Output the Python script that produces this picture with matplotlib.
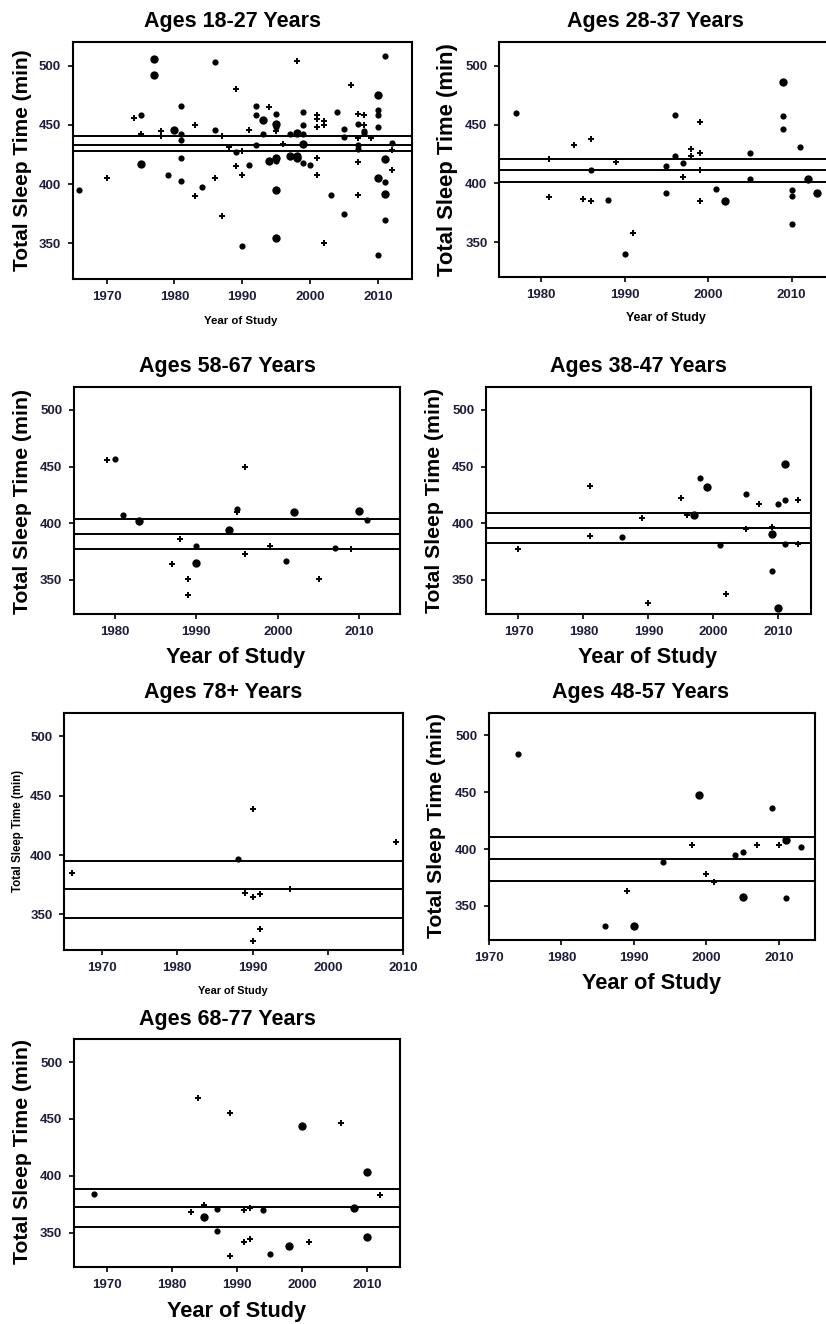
import matplotlib
matplotlib.use("Agg")
import matplotlib.pyplot as plt
import numpy as np

plt.rcParams['font.family'] = ['Liberation Sans', 'DejaVu Sans']

# ---------------- data ----------------
# marker kind: '+' = small cross, 'o' = dot, 'O' = large dot
titles = ["Ages 18-27 Years", "Ages 28-37 Years", "Ages 58-67 Years", "Ages 38-47 Years",
          "Ages 78+ Years", "Ages 48-57 Years", "Ages 68-77 Years"]

yr_18 = [1966, 1970, 1974, 1975, 1975, 1975, 1977, 1977, 1978, 1978, 1979, 1980, 1981, 1981, 1981, 1981, 1981,
         1983, 1983, 1984, 1986, 1986, 1986, 1987, 1987, 1988, 1989, 1989, 1989, 1990, 1990, 1990, 1991, 1991,
         1992, 1992, 1992, 1993, 1993, 1994, 1994, 1995, 1995, 1995, 1995, 1995, 1995, 1995, 1995, 1996, 1997,
         1997, 1998, 1998, 1998, 1998, 1999, 1999, 1999, 1999, 1999, 2000, 2001, 2001, 2001, 2001, 2001, 2002,
         2002, 2002, 2003, 2004, 2005, 2005, 2005, 2006, 2007, 2007, 2007, 2007, 2007, 2007, 2007, 2008, 2008,
         2008, 2008, 2009, 2010, 2010, 2010, 2010, 2010, 2010, 2011, 2011, 2011, 2011, 2011, 2012, 2012, 2012]
tst_18 = [395, 405, 456, 458, 442, 417, 506, 492, 445, 441, 408, 446, 466, 442, 437, 422, 403,
          450, 390, 398, 503, 446, 405, 441, 373, 431, 480, 427, 415, 428, 408, 348, 446, 416,
          466, 458, 433, 454, 442, 465, 420, 459, 451, 448, 445, 422, 420, 395, 355, 434, 442,
          424, 504, 443, 424, 422, 461, 450, 442, 434, 418, 416, 458, 455, 448, 422, 408, 453,
          450, 350, 391, 461, 447, 440, 375, 484, 459, 451, 439, 433, 430, 419, 391, 458, 450,
          445, 443, 439, 475, 463, 458, 448, 405, 340, 508, 421, 402, 392, 370, 435, 429, 412]
mk_18 = ['o', '+', '+', 'o', '+', 'O', 'O', 'O', '+', '+', 'o', 'O', 'o', 'o', 'o', 'o', 'o',
         '+', '+', 'o', 'o', 'o', '+', '+', '+', '+', '+', 'o', '+', '+', '+', 'o', '+', 'o',
         'o', 'o', 'o', 'O', 'o', '+', 'O', 'o', 'O', 'o', '+', 'O', 'o', 'O', 'O', '+', 'o',
         'O', '+', 'O', 'O', 'O', 'o', 'o', 'o', 'O', 'o', 'o', '+', '+', '+', '+', '+', '+',
         '+', '+', 'o', 'o', 'o', 'o', 'o', '+', '+', 'o', '+', 'o', 'o', '+', '+', '+', '+',
         'o', 'o', '+', 'O', 'o', 'o', 'o', 'O', 'o', 'o', 'O', 'o', 'O', 'o', 'o', '+', '+']
hl_18 = [441, 433, 428]

yr_28 = [1977, 1981, 1981, 1984, 1985, 1986, 1986, 1986, 1988, 1989, 1990, 1991, 1995, 1995, 1996, 1996,
         1997, 1997, 1998, 1998, 1999, 1999, 1999, 1999, 2001, 2002, 2005, 2005, 2009, 2009, 2009, 2010,
         2010, 2010, 2011, 2012, 2013]
tst_28 = [460, 421, 388, 433, 387, 438, 411, 385, 386, 418, 340, 358, 415, 392, 458, 423,
          417, 405, 429, 423, 452, 426, 411, 385, 395, 385, 426, 404, 486, 457, 446, 394,
          389, 365, 431, 404, 392]
mk_28 = ['o', '+', '+', '+', '+', '+', 'o', '+', 'o', '+', 'o', '+', 'o', 'o', 'o', 'o',
         'o', '+', '+', '+', '+', '+', '+', '+', 'o', 'O', 'o', 'o', 'O', 'o', 'o', 'o',
         'o', 'o', 'o', 'O', 'O']
hl_28 = [421, 411, 401]

yr_58 = [1979, 1980, 1981, 1983, 1987, 1988, 1989, 1989, 1990, 1990, 1994, 1995, 1995, 1996, 1996,
         1999, 2001, 2002, 2005, 2007, 2009, 2010, 2011]
tst_58 = [456, 457, 407, 402, 364, 386, 351, 337, 380, 365, 394, 413, 410, 450, 373,
          380, 367, 410, 351, 378, 377, 411, 403]
mk_58 = ['+', 'o', 'o', 'O', '+', '+', '+', '+', 'o', 'O', 'O', 'o', '+', '+', '+',
         '+', 'o', 'O', '+', 'o', '+', 'O', 'o']
hl_58 = [403.5, 390.5, 377.5]

yr_38 = [1970, 1981, 1981, 1986, 1989, 1990, 1995, 1996, 1997, 1998, 1999, 2001, 2002, 2005, 2005,
         2007, 2009, 2009, 2009, 2010, 2010, 2011, 2011, 2011, 2013, 2013]
tst_38 = [377, 433, 389, 388, 405, 330, 422, 407, 407, 440, 432, 381, 338, 426, 395,
          417, 397, 391, 358, 417, 325, 452, 421, 382, 421, 382]
mk_38 = ['+', '+', '+', 'o', '+', '+', '+', '+', 'O', 'o', 'O', 'o', '+', 'o', '+',
         '+', '+', 'O', 'o', 'o', 'O', 'O', 'o', 'o', '+', '+']
hl_38 = [409, 396, 383]

yr_78 = [1966, 1988, 1990, 1989, 1990, 1991, 1995, 1991, 1990, 2009]
tst_78 = [385, 397, 439, 368, 365, 367, 371, 338, 328, 411]
mk_78 = ['+', 'o', '+', '+', '+', '+', '+', '+', '+', '+']
hl_78 = [395, 371, 347]

yr_48 = [1974, 1986, 1989, 1990, 1994, 1998, 1999, 2000, 2001, 2004, 2005, 2005, 2007, 2009, 2010,
         2011, 2011, 2013]
tst_48 = [484, 332, 363, 332, 389, 404, 448, 378, 371, 395, 397, 358, 404, 436, 404,
          408, 357, 402]
mk_48 = ['o', 'o', '+', 'O', 'o', '+', 'O', '+', '+', 'o', 'o', 'O', '+', 'o', '+',
         'O', 'o', 'o']
hl_48 = [410.5, 391, 372]

yr_68 = [1968, 1983, 1984, 1985, 1985, 1987, 1987, 1989, 1989, 1991, 1991, 1992, 1992, 1994, 1995,
         1998, 2000, 2001, 2006, 2008, 2010, 2010, 2012]
tst_68 = [384, 368, 468, 374, 364, 371, 351, 455, 329, 370, 342, 372, 344, 370, 331,
          338, 444, 342, 446, 372, 403, 346, 383]
mk_68 = ['o', '+', '+', '+', 'O', 'o', 'o', '+', '+', '+', '+', '+', '+', 'o', 'o',
         'O', 'O', '+', '+', 'O', 'O', 'O', '+']
hl_68 = [388, 372.5, 355]

# ---------------- layout (pixel geometry) ----------------
W, H = 826, 1324
fig = plt.figure(figsize=(W / 100, H / 100), dpi=100)

def fx(x):
    return x / W

def fy(y):
    return 1 - y / H

panels = [
    dict(d=(yr_18, tst_18, mk_18, hl_18), box=(72.7, 412, 42, 279), xlim=(1965, 2015),
         xt=[1970, 1980, 1990, 2000, 2010], tt=(232, 27), yl=(23, 160, 15), xl=(241, 321, 8.2)),
    dict(d=(yr_28, tst_28, mk_28, hl_28), box=(499.3, 833.3, 42.3, 277.3), xlim=(1975, 2015),
         xt=[1980, 1990, 2000, 2010], tt=(655, 27), yl=(447, 160, 15.8), xl=(666, 318.5, 9)),
    dict(d=(yr_58, tst_58, mk_58, hl_58), box=(74, 400, 387.3, 614), xlim=(1975, 2015),
         xt=[1980, 1990, 2000, 2010], tt=(227, 372), yl=(23, 501, 15.3), xl=(236, 657, 15.7)),
    dict(d=(yr_38, tst_38, mk_38, hl_38), box=(486, 811, 387.3, 614), xlim=(1965, 2015),
         xt=[1970, 1980, 1990, 2000, 2010], tt=(638, 372), yl=(434, 500, 15.3), xl=(648, 658, 15.7)),
    dict(d=(yr_78, tst_78, mk_78, hl_78), box=(64.3, 403.3, 712.7, 950), xlim=(1965, 2010),
         xt=[1970, 1980, 1990, 2000, 2010], tt=(223, 698), yl=(18, 831, 8.3), xl=(233, 991, 7.8)),
    dict(d=(yr_48, tst_48, mk_48, hl_48), box=(489, 815, 712.7, 940), xlim=(1970, 2015),
         xt=[1970, 1980, 1990, 2000, 2010], tt=(641, 698), yl=(437, 825, 15.3), xl=(652, 984, 15.7)),
    dict(d=(yr_68, tst_68, mk_68, hl_68), box=(74, 400, 1039.3, 1266.7), xlim=(1965, 2015),
         xt=[1970, 1980, 1990, 2000, 2010], tt=(227, 1025), yl=(23, 1152, 15.3), xl=(237, 1311, 15.7)),
]

tick_color = '#1e1e3c'

for title, p in zip(titles, panels):
    l, r, t, b = p['box']
    ax = fig.add_axes([fx(l), fy(b), (r - l) / W, (b - t) / H])
    yrs, vals, mks, hls = p['d']
    yrs = np.asarray(yrs)
    vals = np.asarray(vals)
    mks = np.asarray(mks)
    sel = mks == '+'
    ax.scatter(yrs[sel], vals[sel], marker='+', s=18, linewidths=1.4, color='black', zorder=3)
    sel = mks == 'o'
    ax.scatter(yrs[sel], vals[sel], marker='o', s=20, linewidths=0, color='black', zorder=3)
    sel = mks == 'O'
    ax.scatter(yrs[sel], vals[sel], marker='o', s=36, linewidths=0, color='black', zorder=3)
    for h in hls:
        ax.axhline(h, color='black', lw=1.4, zorder=2)
    ax.set_xlim(*p['xlim'])
    ax.set_ylim(320, 520)
    ax.set_xticks(p['xt'])
    ax.set_yticks([350, 400, 450, 500])
    for sp in ax.spines.values():
        sp.set_linewidth(1.5)
    ax.tick_params(direction='out', length=3.5, width=1.2, labelsize=9.5, labelcolor=tick_color,
                   pad=5)
    for lab in ax.get_xticklabels() + ax.get_yticklabels():
        lab.set_fontweight('bold')
    fig.text(fx(p['tt'][0]), fy(p['tt'][1]), title, ha='center', va='baseline',
             fontsize=15.5, fontweight='bold')
    yx, yy, ys = p['yl']
    fig.text(fx(yx), fy(yy), "Total Sleep Time (min)", rotation=90, ha='center', va='center',
             fontsize=ys, fontweight='bold')
    xx, xy, xs = p['xl']
    fig.text(fx(xx), fy(xy), "Year of Study", ha='center', va='center',
             fontsize=xs, fontweight='bold')

fig.savefig("out.png", dpi=100)
